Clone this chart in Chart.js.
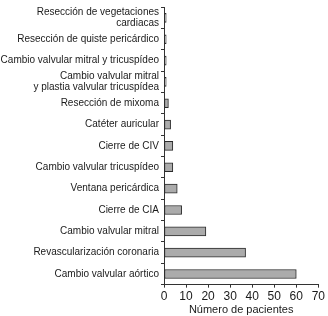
<!DOCTYPE html>
<html>
<head>
<meta charset="utf-8">
<script src="https://cdn.jsdelivr.net/npm/chart.js@4"></script>
<style>
html,body{margin:0;padding:0;background:#fff;}
#c{display:block;}
</style>
</head>
<body>
<canvas id="c" width="328" height="316"></canvas>
<script>
const categories = [
  ["Resección de vegetaciones", "cardiacas"],
  "Resección de quiste pericárdico",
  "Cambio valvular mitral y tricuspídeo",
  ["Cambio valvular mitral", "y plastia valvular tricuspídea"],
  "Resección de mixoma",
  "Catéter auricular",
  "Cierre de CIV",
  "Cambio valvular tricuspídeo",
  "Ventana pericárdica",
  "Cierre de CIA",
  "Cambio valvular mitral",
  "Revascularización coronaria",
  "Cambio valvular aórtico"
];
const patients = [1, 1, 1, 1, 2, 3, 4, 4, 6, 8, 19, 37, 60];
const xTicks = [0, 10, 20, 30, 40, 50, 60, 70];
const xTitle = "Número de pacientes";

const FONT = "'Liberation Sans', Arial, sans-serif";
new Chart(document.getElementById('c'), {
  type: 'bar',
  data: {
    labels: categories,
    datasets: [{
      data: patients,
      backgroundColor: '#ababab',
      borderColor: '#2a2a2a',
      borderWidth: 1,
      borderSkipped: false,
      barThickness: 9
    }]
  },
  options: {
    indexAxis: 'y',
    responsive: false,
    animation: false,
    devicePixelRatio: 1,
    layout: {padding: {top: 4, right: 0, left: 0, bottom: 0}},
    plugins: {legend: {display: false}, tooltip: {enabled: false}},
    scales: {
      y: {
        grid: {offset: true, drawOnChartArea: false, tickLength: 3, color: '#333'},
        border: {color: '#333', width: 1},
        ticks: {color: '#1a1a1a', font: {family: FONT, size: 10, lineHeight: 1.05}, padding: 2, autoSkip: false}
      },
      x: {
        min: xTicks[0],
        max: xTicks[xTicks.length - 1],
        afterBuildTicks: (s) => { s.ticks = xTicks.map(v => ({value: v})); },
        grid: {drawOnChartArea: false, tickLength: 3, color: '#333'},
        border: {color: '#333', width: 1},
        ticks: {color: '#1a1a1a', font: {family: FONT, size: 12, lineHeight: 1}, padding: 3, maxRotation: 0, autoSkip: false},
        title: {display: true, text: xTitle, color: '#1a1a1a', font: {family: FONT, size: 11, lineHeight: 0.85}, padding: {top: 0, bottom: 1}}
      }
    }
  }
});
</script>
</body>
</html>
